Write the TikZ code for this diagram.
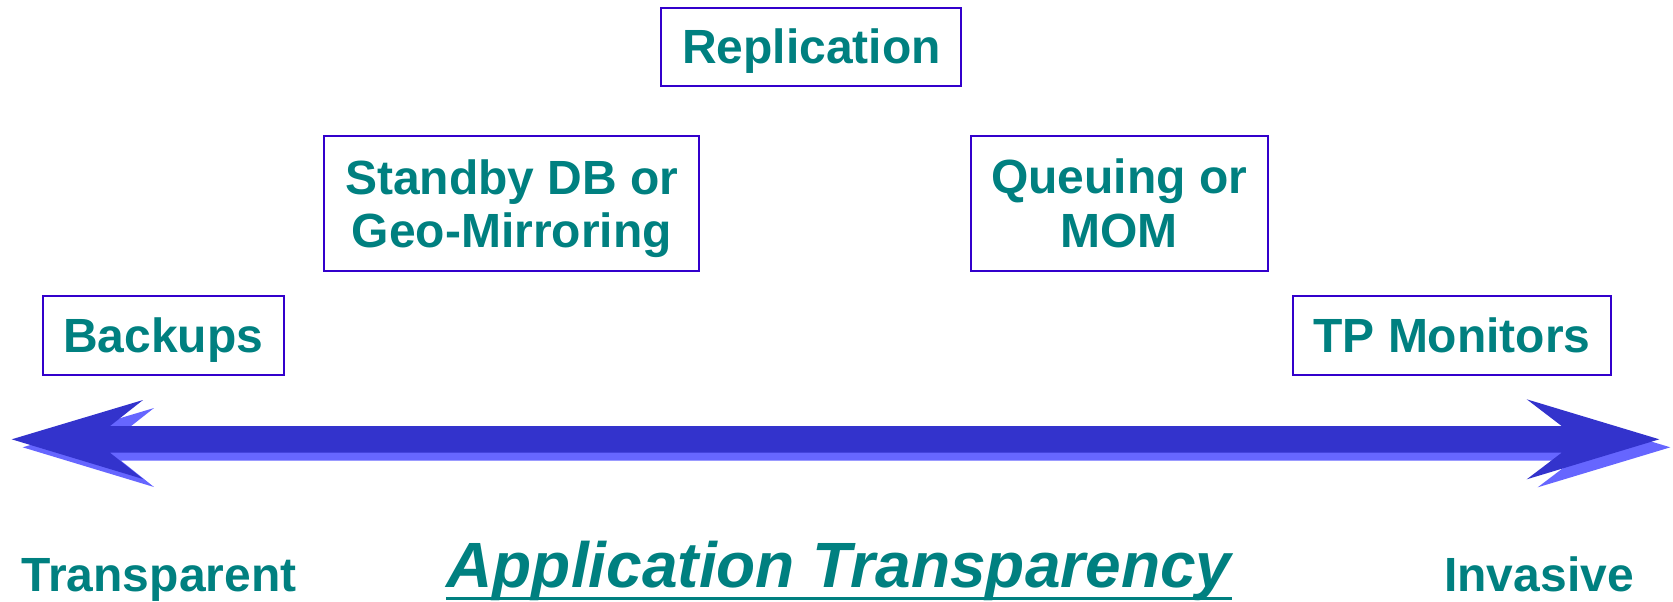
\documentclass[tikz,border=0pt]{standalone}
\usepackage{fontspec}
\setmainfont{Liberation Sans}
\usepackage{tikz}

\definecolor{labelteal}{RGB}{0,128,128}
\definecolor{boxblue}{RGB}{51,0,204}
\definecolor{arrowblue}{RGB}{51,51,204}
\definecolor{arrowshade}{RGB}{102,102,255}

\tikzset{
	label/.style={text=labelteal, font=\bfseries\fontsize{24}{26.6}\selectfont, inner sep=0pt},
	tbox/.style={label, draw=boxblue, line width=1pt, align=center},
	onerow/.style={tbox, text height=17.3pt, text depth=0pt}
}

\begin{document}
\begin{tikzpicture}[x=0.5pt, y=-0.5pt]
	\useasboundingbox (0,0) rectangle (1673,601);

	% the boxes
	\node (repl) at (811.4,46.5) [onerow, minimum width=150pt, minimum height=39pt] {Replication};
	\node (standby) at (511.7,203.3) [tbox, text depth=0pt, minimum width=187.3pt, minimum height=67.8pt] {Standby DB or\\Geo-Mirroring};
	\node (queuing) at (1119.2,203.3) [tbox, minimum width=148.3pt, minimum height=67.8pt] {Queuing or\\MOM};
	\node (backups) at (163.3,335) [onerow, minimum width=120.5pt, minimum height=39.5pt] {Backups};
	\node (tpmon) at (1452,335) [onerow, minimum width=159pt, minimum height=39.5pt] {TP Monitors};

	% the two-way arrow, shade first
	\foreach \dx/\dy/\col in {11/8/arrowshade, 0/0/arrowblue}
		\fill [\col, shift={(\dx,\dy)}] (11.7,439.3) -- (143,400) -- (110,426) -- (1561.7,426)
			-- (1526.7,399.3) -- (1659.3,439.3) -- (1526.7,479.3) -- (1561.7,452.7)
			-- (110,452.7) -- (143,479) -- cycle;

	% the scale
	\node (transp) at (159,591) [label, anchor=base] {Transparent};
	\node (invasive) at (1539,591) [label, anchor=base] {Invasive};
	\node (apptransp) at (839,587) [label, anchor=base, font=\bfseries\itshape\fontsize{32}{34}\selectfont] {Application Transparency};
	\draw [labelteal, line width=1.5pt] ([yshift=-5.6pt]apptransp.base west) -- ([yshift=-5.6pt]apptransp.base east);
\end{tikzpicture}
\end{document}
